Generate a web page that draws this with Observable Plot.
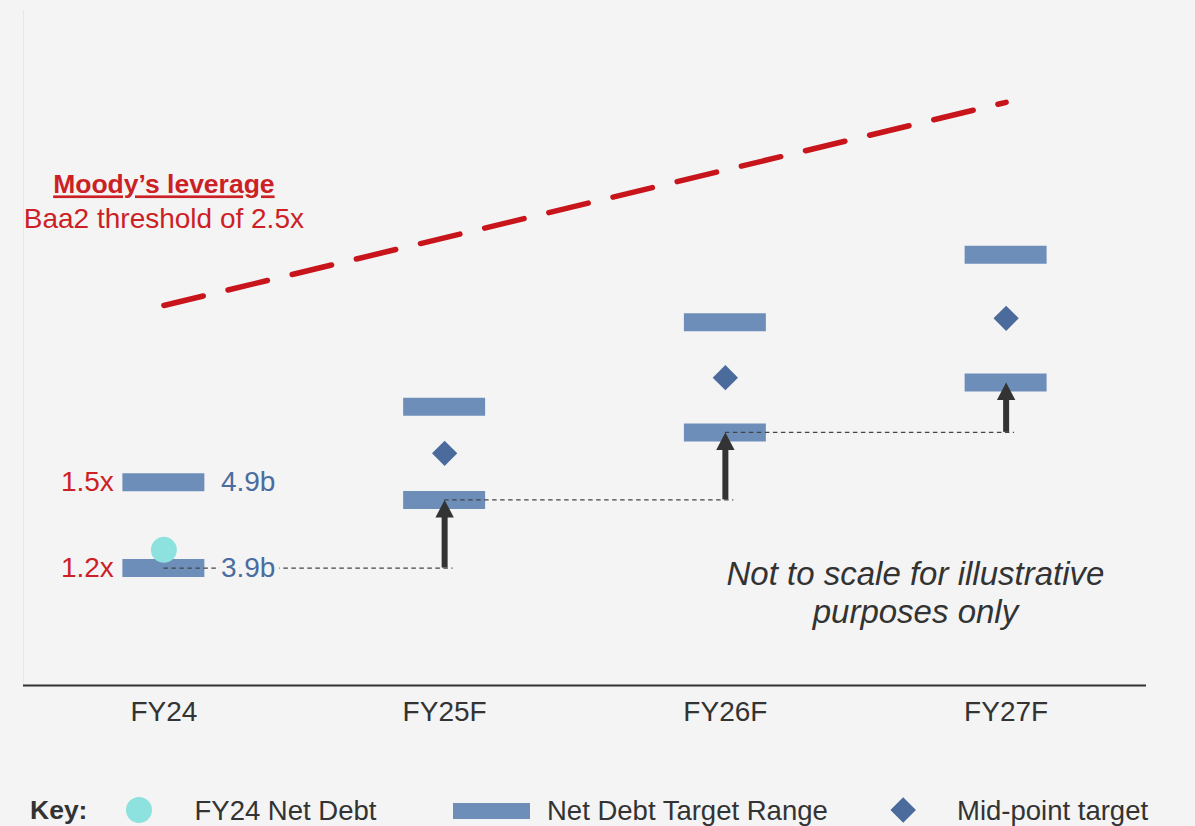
<!DOCTYPE html>
<html>
<head>
<meta charset="utf-8">
<script src="https://cdn.jsdelivr.net/npm/d3@7"></script>
<script src="https://cdn.jsdelivr.net/npm/@observablehq/plot@0.6"></script>
<style>
html, body { margin: 0; padding: 0; background: #f4f4f4; }
#chart { width: 1195px; height: 760px; }
#legend { position: relative; width: 1195px; height: 66px; font-family: "Liberation Sans", Arial, sans-serif; color: #333; overflow: hidden; }
#legend .t { position: absolute; font-size: 27.5px; line-height: 27.5px; white-space: nowrap; top: 37px; }
#legend .key { font-weight: bold; font-size: 26.5px; }
#legend .sw { position: absolute; }
</style>
</head>
<body>
<div id="chart"></div>
<div id="legend"></div>
<script>
// ---- data (illustrative index, chart is "not to scale") ----
const categories = ["FY24", "FY25F", "FY26F", "FY27F"];
const targetLow  = [17.4, 27.5, 37.5, 44.9];
const targetHigh = [30.1, 41.3, 53.8, 63.8];
const midpoint   = [null, 34.4, 45.6, 54.4];
const fy24NetDebt = [20.1];
const thresholdStart = 56.3;   // at FY24
const thresholdEnd = 86.4;     // at FY27F
const leverageLabels = ["1.2x", "1.5x"];
const debtLabels = ["3.9b", "4.9b"];
const moodyTitle = "Moody’s leverage";
const moodySub = "Baa2 threshold of 2.5x";
const noteText = "Not to scale for illustrative\npurposes only";
const legendKey = "Key:";
const legendLabels = ["FY24 Net Debt", "Net Debt Target Range", "Mid-point target"];

// ---- styles ----
const BG = "#f4f4f4";
const RED = "#c8151c";
const RED_TEXT = "#cc1f26";
const BAR = "#6e8eba";
const DIAMOND = "#4a6b9b";
const TEAL = "#8de1de";
const BLUE_TEXT = "#4b6ca0";
const DARK = "#333333";
const BAR_HALF = 0.146;

const rows = categories.map((c, i) => ({i, cat: c, low: targetLow[i], high: targetHigh[i], mid: midpoint[i]}));
const barRows = rows.flatMap(d => [{i: d.i, v: d.low}, {i: d.i, v: d.high}]);
const stepRows = rows.slice(1).map(d => ({i: d.i, from: targetLow[d.i - 1], to: d.low}));
const midRows = rows.filter(d => d.mid != null);
const thresholdRows = [{i: 0, v: thresholdStart}, {i: categories.length - 1, v: thresholdEnd}];

const arrowHead = {
  draw(ctx) {
    ctx.moveTo(0, 0);
    ctx.lineTo(9.2, 17.6);
    ctx.lineTo(-9.2, 17.6);
    ctx.closePath();
  }
};

const chart = Plot.plot({
  width: 1195,
  height: 760,
  marginTop: 10,
  marginBottom: 75,
  marginLeft: 23,
  marginRight: 49,
  style: {background: BG, fontFamily: "'Liberation Sans', Arial, sans-serif", fontSize: "28px", color: DARK, overflow: "visible"},
  x: {domain: [-0.5, 3.5]},
  y: {domain: [0, 100], axis: null},
  marks: [
    Plot.ruleX([-0.5], {stroke: "#e7e7e7", strokeWidth: 1}),
    Plot.line(thresholdRows, {x: "i", y: "v", stroke: RED, strokeWidth: 5.5, strokeDasharray: "40.5,25.5", strokeLinecap: "round"}),
    Plot.ruleY(barRows, {y: "v", x1: d => d.i - BAR_HALF, x2: d => d.i + BAR_HALF, stroke: BAR, strokeWidth: 18}),
    Plot.ruleY(stepRows, {y: "from", x1: d => d.i - 1, x2: d => d.i + 0.03, stroke: "#444", strokeWidth: 1.3, strokeDasharray: "4.5,3.5"}),
    Plot.ruleX(stepRows, {x: "i", y1: "to", y2: "from", insetTop: 15, stroke: DARK, strokeWidth: 6}),
    Plot.dot(stepRows, {x: "i", y: "to", symbol: arrowHead, fill: DARK, stroke: "none", r: 5}),
    Plot.dot(midRows, {x: "i", y: "mid", symbol: "diamond2", r: 11.4, fill: DIAMOND, stroke: "none"}),
    Plot.dot(fy24NetDebt, {x: 0, y: d => d, r: 13, fill: TEAL, stroke: "none"}),
    Plot.text(leverageLabels, {x: 0, y: (d, k) => [targetLow[0], targetHigh[0]][k], text: d => d, textAnchor: "end", dx: -50, fill: RED_TEXT, fontSize: 28}),
    Plot.text(debtLabels, {x: 0, y: (d, k) => [targetLow[0], targetHigh[0]][k], text: d => d, textAnchor: "start", dx: 57, fill: BLUE_TEXT, stroke: BG, strokeWidth: 10, paintOrder: "stroke", fontSize: 28}),
    Plot.text([moodyTitle], {x: 0, y: 72.9, text: d => d, lineAnchor: "bottom", fontWeight: "bold", fontSize: 26.5, fill: RED_TEXT}),
    Plot.text([moodySub], {x: 0, y: 67.85, text: d => d, lineAnchor: "bottom", fontSize: 28, fill: RED_TEXT}),
    Plot.text([noteText], {x: 2.677, y: 9.2, text: d => d, lineAnchor: "bottom", fontStyle: "italic", fontSize: 33, lineHeight: 1.15, fill: DARK}),
    Plot.ruleY([0], {stroke: DARK, strokeWidth: 2}),
    Plot.axisX([0, 1, 2, 3], {tickFormat: i => categories[i], tickSize: 0, tickPadding: 16, fontSize: 28, fill: DARK, label: null})
  ]
});
document.getElementById("chart").appendChild(chart);

// underline the Moody's heading
chart.querySelectorAll("text").forEach(t => {
  if (t.textContent === moodyTitle) {
    t.setAttribute("text-decoration", "underline");
    t.style.textDecoration = "underline";
  }
});

// ---- legend (HTML below the SVG) ----
const legend = document.getElementById("legend");
function addText(txt, left, cls) {
  const s = document.createElement("span");
  s.className = "t" + (cls ? " " + cls : "");
  s.style.left = left + "px";
  s.textContent = txt;
  legend.appendChild(s);
}
function addSwatch(css) {
  const s = document.createElement("span");
  s.className = "sw";
  Object.assign(s.style, css);
  legend.appendChild(s);
}
addText(legendKey, 30, "key");
addSwatch({left: "125.5px", top: "37px", width: "26px", height: "26px", borderRadius: "50%", background: TEAL});
addText(legendLabels[0], 194.5);
addSwatch({left: "453px", top: "43px", width: "77px", height: "16px", background: BAR});
addText(legendLabels[1], 547);
addSwatch({left: "893.8px", top: "40.8px", width: "18.4px", height: "18.4px", background: DIAMOND, transform: "rotate(45deg)"});
addText(legendLabels[2], 957);
</script>
</body>
</html>
